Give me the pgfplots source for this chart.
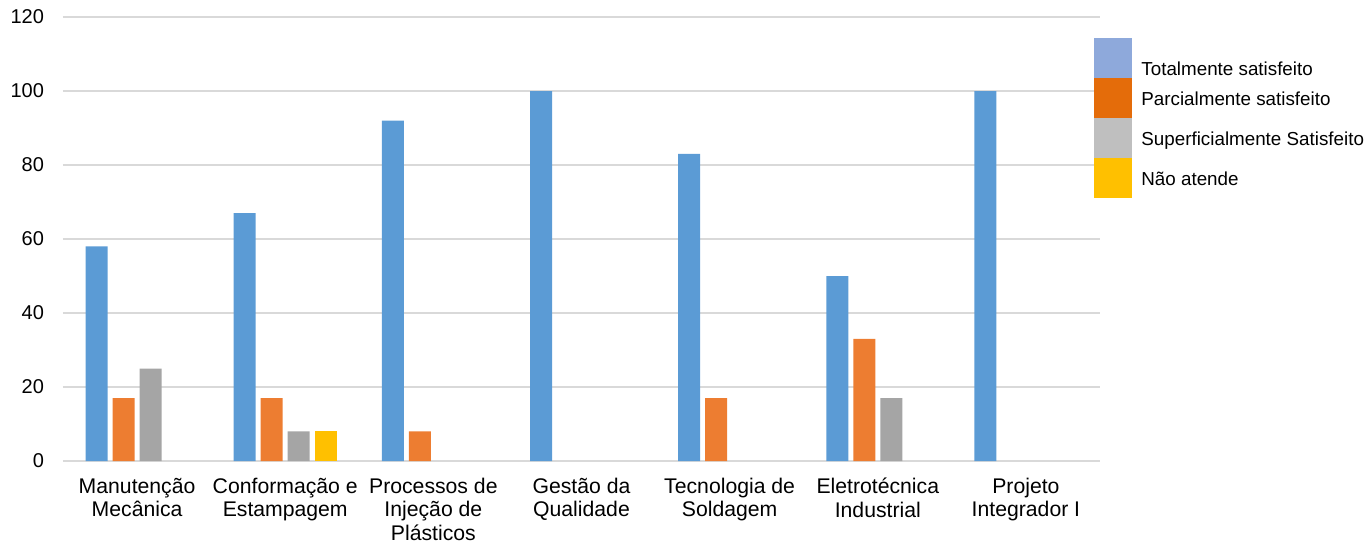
\documentclass[border=0pt]{standalone}
\usepackage{pgfplots}
\pgfplotsset{compat=1.18}
\usepackage{fontspec}
\setmainfont{Liberation Sans}
\definecolor{cblue}{HTML}{5B9BD5}
\definecolor{corange}{HTML}{ED7D31}
\definecolor{cgray}{HTML}{A5A5A5}
\definecolor{cyellow}{HTML}{FFC000}
\definecolor{lblue}{HTML}{8EA9DB}
\definecolor{lorange}{HTML}{E46C0A}
\definecolor{lgray}{HTML}{BFBFBF}
\definecolor{gridc}{HTML}{D9D9D9}
\begin{document}
\begin{tikzpicture}
\begin{axis}[
  at={(31.5pt,-230.5pt)}, anchor=south west,
  scale only axis, width=518.5pt, height=222pt,
  ybar, bar width=11pt,
  xmin=-0.5, xmax=6.5, ymin=0, ymax=120,
  ytick={0,20,...,120},
  xtick={0,...,6},
  xticklabels={{Manutenção\\Mecânica},{Conformação e\\Estampagem},{Processos de\\Injeção de\\Plásticos},{Gestão da\\Qualidade},{Tecnologia de\\Soldagem},{Eletrotécnica\\Industrial},{Projeto\\Integrador I}},
  xticklabel style={align=center, font=\fontsize{10.6}{11.75}\selectfont, yshift=-5pt},
  yticklabel style={font=\fontsize{10}{12}\selectfont, xshift=-6pt},
  /pgf/number format/assume math mode=true,
  major tick length=0pt,
  axis x line*=bottom, axis y line*=left,
  y axis line style={draw=none},
  x axis line style={draw=gridc, line width=1pt, -},
  ymajorgrids, grid style={draw=gridc, line width=0.6pt},
  every axis plot/.append style={draw=none},
]
\addplot[fill=cblue, bar shift=-20.25pt] coordinates {(0,58)(1,67)(2,92)(3,100)(4,83)(5,50)(6,100)};
\addplot[fill=corange, bar shift=-6.75pt] coordinates {(0,17)(1,17)(2,8)(4,17)(5,33)};
\addplot[fill=cgray, bar shift=6.75pt] coordinates {(0,25)(1,8)(5,17)};
\addplot[fill=cyellow, bar shift=20.25pt] coordinates {(1,8)};
\end{axis}
\begin{scope}[x=0.5pt,y=-0.5pt]
\path (0,0) rectangle (1368,544);
\fill[lblue] (1094,38) rectangle (1132,78);
\fill[lorange] (1094,78) rectangle (1132,118);
\fill[lgray] (1094,118) rectangle (1132,158);
\fill[cyellow] (1094,158) rectangle (1132,198);
\begin{scope}[every node/.style={anchor=base west, inner sep=0pt, font=\fontsize{9.4}{11}\selectfont}]
\node at (1141,75) {Totalmente satisfeito};
\node at (1141,105) {Parcialmente satisfeito};
\node at (1141,145) {Superficialmente Satisfeito};
\node at (1141,185) {Não atende};
\end{scope}
\end{scope}
\end{tikzpicture}
\end{document}
